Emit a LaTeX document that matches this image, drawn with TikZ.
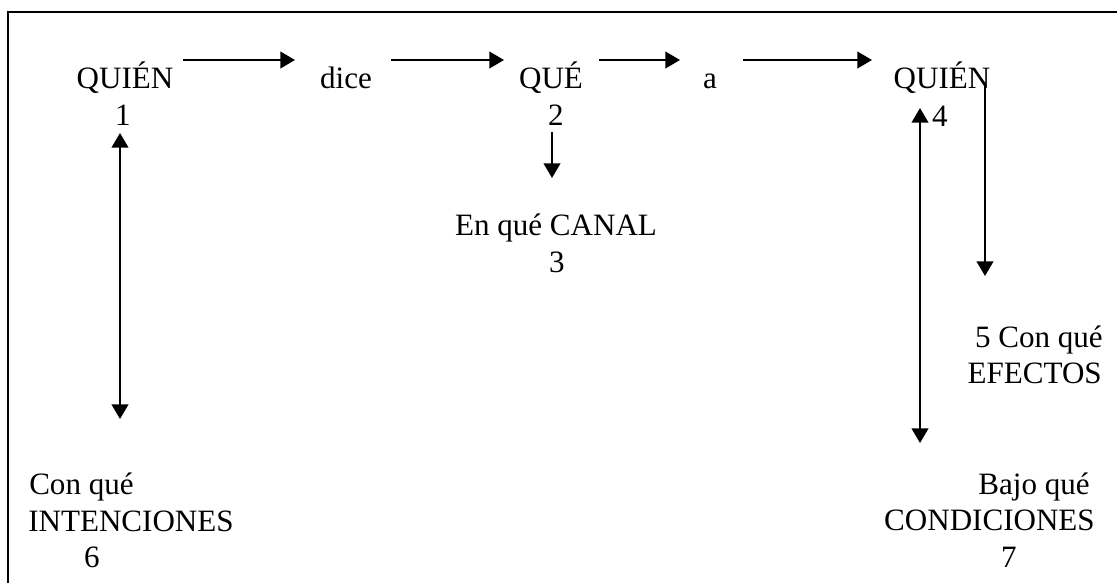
\documentclass[tikz,border=0pt]{standalone}
\usepackage{fontspec}
\setmainfont{Liberation Serif}
\usepackage{xcolor}
\usepackage{tikz}
\usetikzlibrary{arrows.meta}

\begin{document}
\begin{tikzpicture}[x=0.75pt,y=-0.75pt,
  txt/.style={inner sep=0pt,font=\fontsize{23.3}{28}\selectfont},
  arr/.style={line width=1.5pt,-{Triangle[length=11pt,width=12.5pt]}},
  darr/.style={line width=1.5pt,{Triangle[length=11pt,width=12.5pt]}-{Triangle[length=11pt,width=12.5pt]}}]
\useasboundingbox (0,0) rectangle (1117,583);
\draw[line width=1.1pt] (8,583) -- (8,12) -- (1117,12);
% top row
\path (125,88) node(quien) [txt,anchor=base] {QUIÉN}
(123,125) node(uno) [txt,anchor=base] {1}
(346,88) node(dice) [txt,anchor=base] {dice}
(551,88) node(que) [txt,anchor=base] {QUÉ}
(556,125) node(dos) [txt,anchor=base] {2}
(710,88) node(a) [txt,anchor=base] {a}
(942,88) node(quienb) [txt,anchor=base] {QUIÉN}
(940,126) node(cuatro) [txt,anchor=base] {4};
% middle and bottom
\path (556,235) node(canal) [txt,anchor=base] {En qué CANAL}
(557,272) node(tres) [txt,anchor=base] {3}
(1103,347) node(efectos) [txt,anchor=base east] {5 Con qué}
(1102,383) node(efectosb) [txt,anchor=base east] {EFECTOS}
(29,494) node(intenc) [txt,anchor=base west] {Con qué}
(28,531) node(intencb) [txt,anchor=base west] {INTENCIONES}
(92,567) node(seis) [txt,anchor=base] {6}
(1090,494) node(condic) [txt,anchor=base east] {Bajo qué}
(1095,530) node(condicb) [txt,anchor=base east] {CONDICIONES}
(1009,567) node(siete) [txt,anchor=base] {7};
% arrow ends
\coordinate (a1s) at (183,60); \coordinate (a1e) at (295,60);
\coordinate (a2s) at (391,60); \coordinate (a2e) at (504,60);
\coordinate (a3s) at (599,60); \coordinate (a3e) at (680,60);
\coordinate (a4s) at (743,60); \coordinate (a4e) at (872,60);
\coordinate (izqs) at (120,133); \coordinate (izqe) at (120,419);
\coordinate (cans) at (552,132); \coordinate (cane) at (552,178);
\coordinate (ders) at (920,108); \coordinate (dere) at (920,443);
\coordinate (efs) at (985,83); \coordinate (efe) at (985,276);
\draw[arr] (a1s) -- (a1e);
\draw[arr] (a2s) -- (a2e);
\draw[arr] (a3s) -- (a3e);
\draw[arr] (a4s) -- (a4e);
\draw[darr] (izqs) -- (izqe);
\draw[arr] (cans) -- (cane);
\draw[darr] (ders) -- (dere);
\draw[arr] (efs) -- (efe);
\end{tikzpicture}
\end{document}
